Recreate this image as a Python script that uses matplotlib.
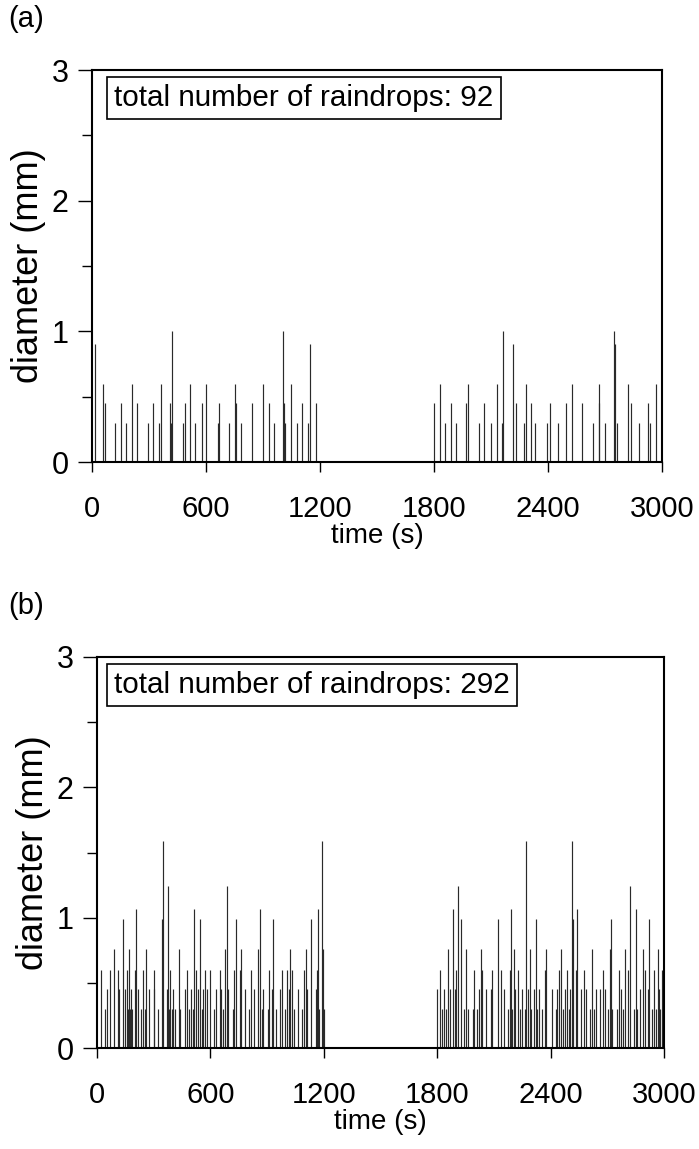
import matplotlib
matplotlib.use("Agg")
import matplotlib.pyplot as plt
from matplotlib.ticker import MultipleLocator

plt.rcParams['font.family'] = ['Liberation Sans', 'DejaVu Sans']

# panel (a): arrival time (s) and drop diameter (mm)
a_time = [16, 59, 67, 121, 151, 179, 209, 238, 296, 323,
          354, 365, 409, 417, 423, 477, 488, 516, 544, 581,
          602, 662, 670, 719, 754, 758, 783, 841, 898, 930,
          959, 1005, 1012, 1017, 1047, 1081, 1104, 1138, 1147, 1181,
          1802, 1830, 1860, 1888, 1917, 1968, 1977, 2035, 2062, 2098,
          2130, 2156, 2165, 2216, 2233, 2275, 2283, 2312, 2333, 2396,
          2409, 2454, 2493, 2525, 2581, 2638, 2667, 2668, 2698, 2746,
          2751, 2762, 2821, 2835, 2879, 2926, 2938, 2968]
a_diam = [0.9, 0.6, 0.45, 0.3, 0.45, 0.3, 0.6, 0.45, 0.3, 0.45,
          0.3, 0.6, 0.45, 0.3, 1.0, 0.3, 0.45, 0.6, 0.3, 0.45,
          0.6, 0.3, 0.45, 0.3, 0.6, 0.45, 0.3, 0.45, 0.6, 0.45,
          0.3, 1.0, 0.45, 0.3, 0.6, 0.3, 0.45, 0.3, 0.9, 0.45,
          0.45, 0.6, 0.3, 0.45, 0.3, 0.45, 0.6, 0.3, 0.45, 0.3,
          0.6, 0.3, 1.0, 0.9, 0.45, 0.3, 0.6, 0.45, 0.3, 0.3,
          0.45, 0.3, 0.45, 0.6, 0.45, 0.3, 0.6, 0.45, 0.3, 1.0,
          0.9, 0.3, 0.6, 0.45, 0.3, 0.45, 0.3, 0.6]

# panel (b)
b_time = [21, 42, 53, 67, 88, 109, 116, 137, 146, 157,
          162, 167, 173, 178, 185, 201, 206, 215, 231, 243,
          252, 259, 273, 300, 303, 323, 342, 351, 368, 377,
          379, 388, 395, 400, 414, 434, 439, 464, 474, 487,
          499, 506, 513, 522, 532, 543, 554, 561, 573, 584,
          598, 619, 628, 651, 658, 667, 675,
          686, 695, 718, 723, 735, 755, 764, 783, 804, 813,
          829, 850, 862, 871, 880, 903, 912, 926, 929, 947,
          968, 977, 993, 1005, 1014, 1023, 1030, 1040, 1061, 1083,
          1093, 1104, 1111, 1132, 1159, 1164, 1169, 1176, 1190, 1196, 1201,
          1799, 1815, 1825, 1836, 1845, 1857, 1868, 1882, 1894, 1901,
          1912, 1924, 1940, 1950, 1963, 1987, 1993, 2009, 2021, 2030,
          2039, 2056, 2083, 2090, 2123, 2136, 2153, 2173, 2183, 2190,
          2197, 2204, 2213, 2226, 2236, 2249, 2263, 2272, 2279, 2291,
          2298, 2310, 2321, 2328, 2336, 2354, 2368, 2377,
          2407, 2428, 2435, 2444, 2453, 2463, 2474, 2487, 2495, 2503,
          2513, 2519, 2535, 2541, 2561, 2577, 2589, 2609, 2619, 2628,
          2639, 2660, 2676, 2688, 2702, 2715, 2718, 2726, 2753, 2762,
          2770, 2781, 2794, 2808, 2818, 2841, 2850, 2857, 2873, 2887,
          2899, 2913, 2921, 2934, 2949, 2958, 2966, 2975, 2980, 2991]
b_diam = [0.6, 0.3, 0.45, 0.6, 0.76, 0.6, 0.45, 0.99, 0.45, 0.6,
          0.3, 0.76, 0.3, 0.45, 0.3, 0.6, 1.07, 0.45, 0.3, 0.6,
          0.3, 0.76, 0.45, 0.6, 0.45, 0.3, 0.99, 1.59, 0.45, 1.24,
          0.3, 0.6, 0.3, 0.45, 0.3, 0.76, 0.3, 0.45, 0.6, 0.3,
          0.45, 0.3, 1.07, 0.6, 0.45, 0.99, 0.3, 0.45, 0.6, 0.45,
          0.6, 0.3, 0.45, 0.6, 0.45, 0.3, 0.76,
          1.24, 0.45, 0.3, 0.6, 0.99, 0.6, 0.76, 0.45, 0.3, 0.6,
          0.45, 0.76, 1.07, 0.3, 0.45, 0.3, 0.6, 0.45, 0.99, 0.3,
          0.45, 0.6, 0.3, 0.6, 0.45, 0.76, 0.6, 0.3, 0.45, 0.3,
          0.6, 0.76, 0.45, 0.99, 0.45, 0.6, 1.07, 0.3, 1.59, 0.76, 0.3,
          0.45, 0.6, 0.3, 0.45, 0.3, 0.76, 0.45, 1.07, 0.45, 0.6,
          1.24, 0.99, 0.3, 0.76, 0.3, 0.3, 0.6, 0.3, 0.45, 0.76,
          0.6, 0.45, 0.45, 0.6, 0.99, 0.6, 0.45, 0.3, 0.6, 1.07,
          0.3, 0.76, 0.45, 0.6, 0.3, 0.45, 0.3, 1.59, 0.45, 0.76,
          0.3, 0.45, 0.99, 0.3, 0.45, 0.3, 0.6, 0.76,
          0.45, 0.3, 0.45, 0.6, 0.76, 0.3, 0.45, 0.6, 0.3, 0.45,
          1.59, 0.99, 0.6, 1.07, 0.45, 0.6, 0.45, 0.3, 0.76, 0.3,
          0.45, 0.45, 0.6, 0.45, 0.3, 0.76, 0.99, 0.3, 0.3, 0.6,
          0.45, 0.3, 0.76, 0.6, 1.24, 0.3, 1.07, 0.3, 0.45, 0.76,
          0.6, 0.45, 0.99, 0.3, 0.6, 0.3, 0.76, 0.45, 0.3, 0.6]

panels = [
    ("(a)", a_time, a_diam, "total number of raindrops: 92"),
    ("(b)", b_time, b_diam, "total number of raindrops: 292"),
]

W, H = 699, 1149
fig = plt.figure(figsize=(W / 100, H / 100), dpi=100)

# axes boxes in pixels: left, top, right, bottom
boxes = [(92, 70, 662, 462), (97, 657, 664, 1048)]
label_y = [19, 606]
box_left = [114, 114]   # left edge of note text, px
box_top = [84, 671]     # top edge of note text, px

for i, (tag, t, d, note) in enumerate(panels):
    l, tp, r, b = boxes[i]
    ax = fig.add_axes([l / W, 1 - b / H, (r - l) / W, (b - tp) / H])
    ax.vlines(t, 0, d, color='#2a2a2a', linewidth=0.85)
    ax.set_xlim(0, 3000)
    ax.set_ylim(0, 3)
    ax.set_xticks([0, 600, 1200, 1800, 2400, 3000])
    ax.yaxis.set_major_locator(MultipleLocator(1))
    ax.yaxis.set_minor_locator(MultipleLocator(0.5))
    ax.tick_params(axis='x', direction='out', length=7, width=1, pad=17, labelsize=21)
    ax.tick_params(axis='y', which='major', direction='out', length=10, width=1, pad=7, labelsize=22)
    ax.tick_params(axis='y', which='minor', direction='out', length=7, width=1)
    for s in ax.spines.values():
        s.set_linewidth(1.5)
    ax.set_xlabel("time (s)", fontsize=20, labelpad=0)
    ax.set_ylabel("diameter (mm)", fontsize=26, labelpad=4)
    ax.text((box_left[i] - l) / (r - l), (b - box_top[i]) / (b - tp), note,
            transform=ax.transAxes, fontsize=21.3, ha='left', va='top',
            bbox=dict(boxstyle='square,pad=0.25', facecolor='white',
                      edgecolor='black', linewidth=1.2))
    fig.text(8 / W, 1 - label_y[i] / H, tag, fontsize=21, ha='left', va='center')

fig.savefig("out.png", dpi=100)
